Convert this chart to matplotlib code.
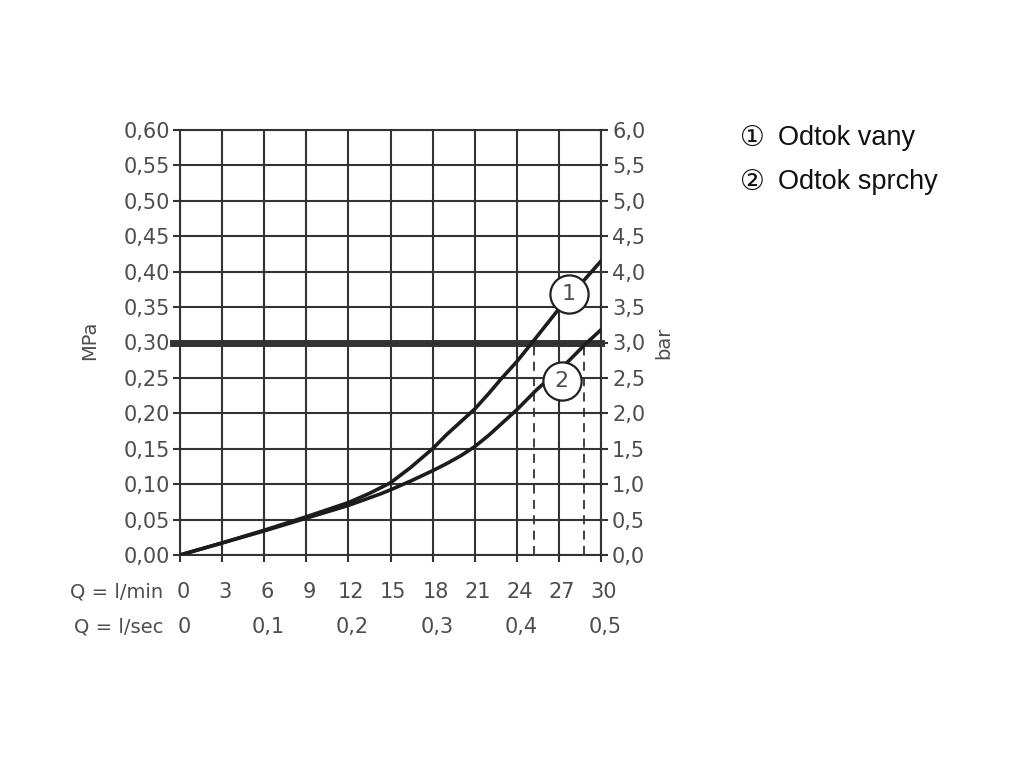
import numpy as np
import matplotlib.pyplot as plt

# prutok Q (l/min) a tlak (MPa)
q_lmin = [0, 3, 6, 9, 12, 15, 18, 21, 24, 27, 30]
q_lsec_pos = [0, 6, 12, 18, 24, 30]
q_lsec_labels = ['0', '0,1', '0,2', '0,3', '0,4', '0,5']
mpa_ticks = [0.0, 0.05, 0.10, 0.15, 0.20, 0.25, 0.30, 0.35, 0.40, 0.45, 0.50, 0.55, 0.60]
mpa_labels = ['0,00', '0,05', '0,10', '0,15', '0,20', '0,25', '0,30',
              '0,35', '0,40', '0,45', '0,50', '0,55', '0,60']
bar_ticks = [0.0, 0.5, 1.0, 1.5, 2.0, 2.5, 3.0, 3.5, 4.0, 4.5, 5.0, 5.5, 6.0]
bar_labels = ['0,0', '0,5', '1,0', '1,5', '2,0', '2,5', '3,0',
              '3,5', '4,0', '4,5', '5,0', '5,5', '6,0']

# 1 - Odtok vany
vany_q = [0, 3, 6, 9, 12, 13.5, 15, 16.4, 18, 19, 20, 21, 22, 22.9, 24, 25.1, 27.1, 30]
vany_p = [0, 0.017, 0.035, 0.054, 0.074, 0.087, 0.102, 0.123, 0.150, 0.170, 0.188,
          0.206, 0.228, 0.249, 0.273, 0.300, 0.350, 0.415]
# 2 - Odtok sprchy
sprchy_q = [0, 3, 6, 9, 12, 14.25, 15, 16.5, 18, 19, 20, 21, 22, 23, 24, 25.4, 27.6, 28.9, 30]
sprchy_p = [0, 0.017, 0.034, 0.052, 0.070, 0.086, 0.092, 0.105, 0.119, 0.129, 0.140,
            0.153, 0.169, 0.187, 0.205, 0.233, 0.272, 0.298, 0.318]

limit_p = 0.30
dash_q = [25.2, 28.8]

gc = '#333333'   # mrizka
tc = '#4d4d4d'   # popisky

fig = plt.figure(figsize=(10.24, 7.68), dpi=100)
ax = fig.add_axes([180/1024, 1 - 555/768, 421/1024, 425/768])
ax.set_xlim(0, 30)
ax.set_ylim(0, 0.6)

ax.set_xticks(q_lmin)
ax.set_xticklabels([])
ax.set_yticks(mpa_ticks)
ax.set_yticklabels(mpa_labels)
ax.grid(True, color=gc, lw=1.5)
for s in ax.spines.values():
    s.set_color(gc)
    s.set_linewidth(1.5)
ax.tick_params(direction='out', length=5, width=1.5, color=gc,
               labelsize=15, labelcolor=tc, pad=2)

ax2 = ax.twinx()
ax2.set_ylim(0, 6)
ax2.set_yticks(bar_ticks)
ax2.set_yticklabels(bar_labels)
ax2.tick_params(direction='out', length=5, width=1.5, color=gc,
                labelsize=15, labelcolor=tc, pad=3)
for s in ax2.spines.values():
    s.set_visible(False)

# hranice 0,3 MPa
ax.plot([-0.5, 30], [limit_p, limit_p], color=gc, lw=5, clip_on=False, zorder=3)
for q in dash_q:
    ax.plot([q, q], [0, limit_p], color=gc, lw=1.3, ls=(0, (5, 3.5)), zorder=3)

ax.plot(vany_q, vany_p, color='#1c1c1c', lw=2.6, zorder=4)
ax.plot(sprchy_q, sprchy_p, color='#1c1c1c', lw=2.6, zorder=4)

for (cx, cy, t) in [(27.7, 0.368, '1'), (27.2, 0.245, '2')]:
    ax.plot(cx, cy, 'o', ms=27.5, mfc='white', mec='#222222', mew=1.6, zorder=5)
    ax.text(cx, cy, t, ha='center', va='center', fontsize=16, color=tc, zorder=6)

# dva radky popisku osy x
tr = ax.get_xaxis_transform()
for q in q_lmin:
    ax.text(q + 0.2, -0.087, str(q), transform=tr, ha='center', va='center',
            fontsize=15, color=tc)
for q, l in zip(q_lsec_pos, q_lsec_labels):
    ax.text(q + 0.3, -0.169, l, transform=tr, ha='center', va='center',
            fontsize=15, color=tc)
ax.text(-0.04, -0.087, 'Q = l/min', transform=ax.transAxes, ha='right', va='center',
        fontsize=14, color=tc)
ax.text(-0.04, -0.169, 'Q = l/sec', transform=ax.transAxes, ha='right', va='center',
        fontsize=14, color=tc)

fig.text(90/1024, 1 - 340/768, 'MPa', rotation=90, ha='center', va='center',
         fontsize=14, color=tc)
fig.text(664/1024, 1 - 343/768, 'bar', rotation=90, ha='center', va='center',
         fontsize=14, color=tc)

# legenda
fig.text(752/1024, 1 - 138/768, '①', ha='center', va='center', fontsize=20,
         family='DejaVu Sans', color='#111111')
fig.text(778/1024, 1 - 138/768, 'Odtok vany', ha='left', va='center', fontsize=19.5,
         family='Liberation Sans', color='#111111')
fig.text(752/1024, 1 - 182/768, '②', ha='center', va='center', fontsize=20,
         family='DejaVu Sans', color='#111111')
fig.text(778/1024, 1 - 182/768, 'Odtok sprchy', ha='left', va='center', fontsize=19.5,
         family='Liberation Sans', color='#111111')

fig.savefig('out.png', dpi=100)
